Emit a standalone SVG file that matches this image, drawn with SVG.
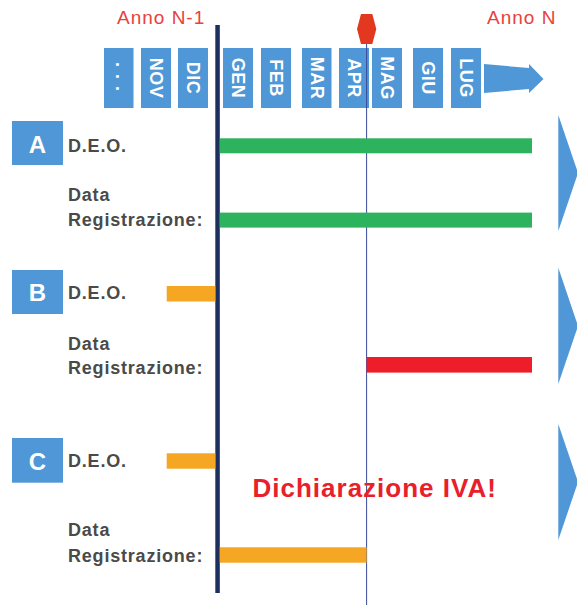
<svg xmlns="http://www.w3.org/2000/svg" width="577" height="605" viewBox="0 0 577 605">
<style>
.mbox{fill:#4f97d6}
.mtxt{font-family:"Liberation Sans",Arial,sans-serif;font-weight:bold;font-size:18px;fill:#fff;text-anchor:middle;letter-spacing:0.5px}
.lbl{font-family:"Liberation Sans",Arial,sans-serif;font-weight:bold;font-size:18px;fill:#4a4a4a;letter-spacing:0.8px}
.big{font-family:"Liberation Sans",Arial,sans-serif;font-weight:bold;font-size:24px;fill:#fff;text-anchor:middle}
.anno{font-family:"Liberation Sans",Arial,sans-serif;font-size:19px;fill:#e8413a;letter-spacing:1px}
.tri{fill:#4f97d6}
</style>
<rect width="577" height="605" fill="#fff"/>
<g id="anni">
<text class="anno" x="117" y="24">Anno N-1</text>
<text class="anno" x="487" y="24">Anno N</text>
</g>
<g id="mesi">
<rect class="mbox" x="104" y="48" width="29.5" height="60"/>
<text class="mtxt" transform="translate(116,77) rotate(90)" style="letter-spacing:1px">. . .</text>
<rect class="mbox" x="141" y="48" width="30" height="60"/>
<text class="mtxt" transform="translate(149.5,78) rotate(90)">NOV</text>
<rect class="mbox" x="178" y="48" width="30" height="60"/>
<text class="mtxt" transform="translate(186.5,78) rotate(90)">DIC</text>
<rect class="mbox" x="223" y="48" width="30" height="60"/>
<text class="mtxt" transform="translate(231.5,78) rotate(90)">GEN</text>
<rect class="mbox" x="261" y="48" width="30" height="60"/>
<text class="mtxt" transform="translate(269.5,78) rotate(90)">FEB</text>
<rect class="mbox" x="302" y="48" width="29.5" height="60"/>
<text class="mtxt" transform="translate(310.5,78) rotate(90)">MAR</text>
<rect class="mbox" x="339" y="48" width="30" height="60"/>
<text class="mtxt" transform="translate(347.5,78) rotate(90)">APR</text>
<rect class="mbox" x="372" y="48" width="30" height="60"/>
<text class="mtxt" transform="translate(380.5,78) rotate(90)">MAG</text>
<rect class="mbox" x="413" y="48" width="30" height="60"/>
<text class="mtxt" transform="translate(421.5,78) rotate(90)">GIU</text>
<rect class="mbox" x="451" y="48" width="30" height="60"/>
<text class="mtxt" transform="translate(459.5,78) rotate(90)">LUG</text>
<polygon class="mbox" points="484,64 529,68 529,64 543.5,79 529,93 529,89 484,93"/>
</g>
<g id="connectors">
<line x1="366.6" y1="40" x2="366.6" y2="605" stroke="#3b4b99" stroke-width="1"/>
<rect x="215.3" y="25" width="4.5" height="568" fill="#1c2f5e"/>
</g>
<g id="marker-apr">
<polygon points="361,14 372.3,14 376.3,29 372.3,44 361,44 357,29" fill="#e2381f"/>
</g>
<g id="row-A">
<rect class="mbox" x="12" y="121" width="51" height="44"/>
<text class="big" x="37.5" y="152.7">A</text>
<text class="lbl" x="68" y="152">D.E.O.</text>
<text class="lbl" x="68" y="200.7">Data</text>
<text class="lbl" x="68" y="225.5">Registrazione:</text>
<rect x="219.8" y="138.3" width="312.2" height="15" fill="#2db35d"/>
<rect x="219.8" y="212.6" width="312.2" height="15" fill="#2db35d"/>
<polygon class="tri" points="558.3,115 578,173 558.3,231"/>
</g>
<g id="row-B">
<rect class="mbox" x="12" y="270" width="51" height="44"/>
<text class="big" x="37.5" y="300.7">B</text>
<text class="lbl" x="68" y="299">D.E.O.</text>
<text class="lbl" x="68" y="350">Data</text>
<text class="lbl" x="68" y="373.5">Registrazione:</text>
<rect x="166.7" y="286" width="48.6" height="15.5" fill="#f5a623"/>
<rect x="366.6" y="357" width="165.4" height="15.6" fill="#ee1d2a"/>
<polygon class="tri" points="558.3,267.7 578,326 558.3,384"/>
</g>
<g id="row-C">
<rect class="mbox" x="12" y="438" width="51" height="44.7"/>
<text class="big" x="37.5" y="470">C</text>
<text class="lbl" x="68" y="466.7">D.E.O.</text>
<text class="lbl" x="68" y="536">Data</text>
<text class="lbl" x="68" y="561.7">Registrazione:</text>
<rect x="166.7" y="453.3" width="48.6" height="15.4" fill="#f5a623"/>
<rect x="219.8" y="547.3" width="146.8" height="15.4" fill="#f5a623"/>
<polygon class="tri" points="558.3,424 578,482 558.3,540"/>
</g>
<g id="nota">
<text x="252.5" y="496.7" font-family="Liberation Sans, Arial, sans-serif" font-weight="bold" font-size="26" fill="#e8202a" letter-spacing="1">Dichiarazione IVA!</text>
</g>
</svg>
